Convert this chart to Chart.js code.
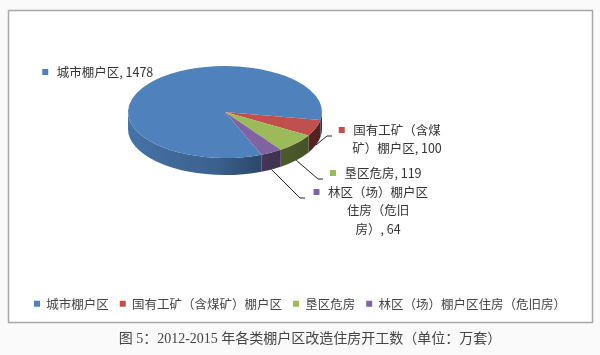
<!DOCTYPE html>
<html>
<head>
<meta charset="utf-8">
<script src="https://cdn.jsdelivr.net/npm/chart.js@4.4.0/dist/chart.umd.min.js"></script>
<style>
  html, body { margin: 0; padding: 0; background: #fafafa; }
  canvas { display: block; }
</style>
</head>
<body>
<canvas id="chart" width="600" height="355"></canvas>
<script>
// data
const categories = ['城市棚户区', '国有工矿（含煤矿）棚户区', '垦区危房', '林区（场）棚户区住房（危旧房）'];
const values = [1478, 100, 119, 64];
const caption = '图 5：2012-2015 年各类棚户区改造住房开工数（单位：万套）';

const colors = ['#4F81BD', '#C0504D', '#9BBB59', '#8064A2'];

// where the data labels sit (x = center of text block, y = first line)
const labelLayout = [
    { x: 105, y: 72, breaks: [], elbow: null },
    { x: 397, y: 130, breaks: [7], elbow: [327, 136] },
    { x: 383, y: 173, breaks: [], elbow: [318, 179] },
    { x: 378, y: 192, breaks: [8, 13], elbow: [300, 198] }
];

const labelFont = '12.5px "Noto Sans CJK SC", "Noto Sans", sans-serif';

function shade(hex, f) {
    let n = parseInt(hex.slice(1), 16);
    let r = Math.round(((n >> 16) & 255) * f);
    let g = Math.round(((n >> 8) & 255) * f);
    let b = Math.round((n & 255) * f);
    return 'rgb(' + r + ',' + g + ',' + b + ')';
}

// frame, background and caption
const frame = {
    id: 'frame',
    beforeDraw(chart) {
        const ctx = chart.ctx;
        ctx.save();
        ctx.fillStyle = '#fafafa';
        ctx.fillRect(0, 0, 600, 355);
        ctx.fillStyle = '#ffffff';
        ctx.fillRect(8.5, 10.5, 584, 312);
        ctx.strokeStyle = '#a8a8a8';
        ctx.lineWidth = 1.5;
        ctx.strokeRect(8.5, 10.5, 584, 312);
        ctx.restore();
    },
    afterDraw(chart) {
        const ctx = chart.ctx;
        ctx.save();
        ctx.fillStyle = '#444';
        ctx.font = '14px "Liberation Serif", "Noto Sans CJK SC", serif';
        ctx.textAlign = 'center';
        ctx.textBaseline = 'middle';
        ctx.fillText(caption, 310, 339);
        ctx.restore();
    }
};

// squash the flat pie into an ellipse and give it a rim
const pie3d = {
    id: 'pie3d',
    beforeDatasetsDraw(chart, args, opts) {
        const ctx = chart.ctx;
        const arcs = chart.getDatasetMeta(0).data;
        const R = arcs[0].outerRadius;
        const ry = R * opts.tilt;
        const cx = opts.cx, cy = opts.cy, D = opts.depth;

        arcs.forEach((arc, i) => {
            const s = arc.startAngle, e = arc.endAngle;
            for (let k = -1; k <= 2; k++) {
                const lo = Math.max(s, 2 * Math.PI * k);
                const hi = Math.min(e, 2 * Math.PI * k + Math.PI);
                if (hi <= lo) continue;
                const grad = ctx.createLinearGradient(cx - R, 0, cx + R, 0);
                grad.addColorStop(0, shade(colors[i], 0.88));
                grad.addColorStop(0.45, shade(colors[i], 0.75));
                grad.addColorStop(0.75, shade(colors[i], 0.5));
                grad.addColorStop(1, shade(colors[i], 0.42));
                ctx.beginPath();
                ctx.ellipse(cx, cy, R, ry, 0, lo, hi);
                ctx.ellipse(cx, cy + D, R, ry, 0, hi, lo, true);
                ctx.closePath();
                ctx.fillStyle = grad;
                ctx.fill();
            }
        });

        ctx.save();
        ctx.translate(cx, cy);
        ctx.scale(1, opts.tilt);
        ctx.translate(-arcs[0].x, -arcs[0].y);
    },
    afterDatasetsDraw(chart) {
        chart.ctx.restore();
    }
};

// data labels with leader lines
const pieLabels = {
    id: 'pieLabels',
    afterDatasetsDraw(chart, args, opts) {
        const ctx = chart.ctx;
        const arcs = chart.getDatasetMeta(0).data;
        const p = chart.options.plugins.pie3d;
        const R = arcs[0].outerRadius;
        ctx.save();
        ctx.font = labelFont;
        ctx.textBaseline = 'middle';
        ctx.textAlign = 'center';
        arcs.forEach((arc, i) => {
            const L = labelLayout[i];
            const text = chart.data.labels[i] + ', ' + chart.data.datasets[0].data[i];
            let lines = [];
            let prev = 0;
            L.breaks.forEach(b => { lines.push(text.slice(prev, b)); prev = b; });
            lines.push(text.slice(prev));

            if (L.elbow) {
                const mid = (arc.startAngle + arc.endAngle) / 2;
                const x0 = p.cx + R * Math.cos(mid);
                const y0 = p.cy + R * p.tilt * Math.sin(mid) + p.depth;
                ctx.beginPath();
                ctx.moveTo(x0, y0);
                ctx.lineTo(L.elbow[0], L.elbow[1]);
                ctx.lineTo(L.elbow[0] + 5, L.elbow[1]);
                ctx.strokeStyle = '#222';
                ctx.lineWidth = 1;
                ctx.stroke();
            }

            const w0 = ctx.measureText(lines[0]).width;
            ctx.fillStyle = colors[i];
            ctx.fillRect(L.x - w0 / 2 - 14.5, L.y - 3, 6, 6);
            ctx.fillStyle = '#333';
            lines.forEach((ln, j) => ctx.fillText(ln, L.x, L.y + j * 18.5));
        });
        ctx.restore();
    }
};

var chart = new Chart(document.getElementById('chart'), {
    type: 'pie',
    data: {
        labels: categories,
        datasets: [{
            data: values,
            backgroundColor: colors,
            borderWidth: 0,
            radius: 97
        }]
    },
    options: {
        responsive: false,
        animation: false,
        rotation: 158,
        layout: { padding: { top: 20, bottom: 35, left: 10, right: 10 } },
        plugins: {
            pie3d: { cx: 225, cy: 112, tilt: 46 / 97, depth: 17 },
            tooltip: { enabled: false },
            legend: {
                position: 'bottom',
                labels: {
                    boxWidth: 6,
                    boxHeight: 6,
                    padding: 11,
                    color: '#444',
                    font: { family: '"Noto Sans CJK SC", "Noto Sans", sans-serif', size: 12.5 }
                }
            }
        }
    },
    plugins: [frame, pie3d, pieLabels]
});
</script>
</body>
</html>
